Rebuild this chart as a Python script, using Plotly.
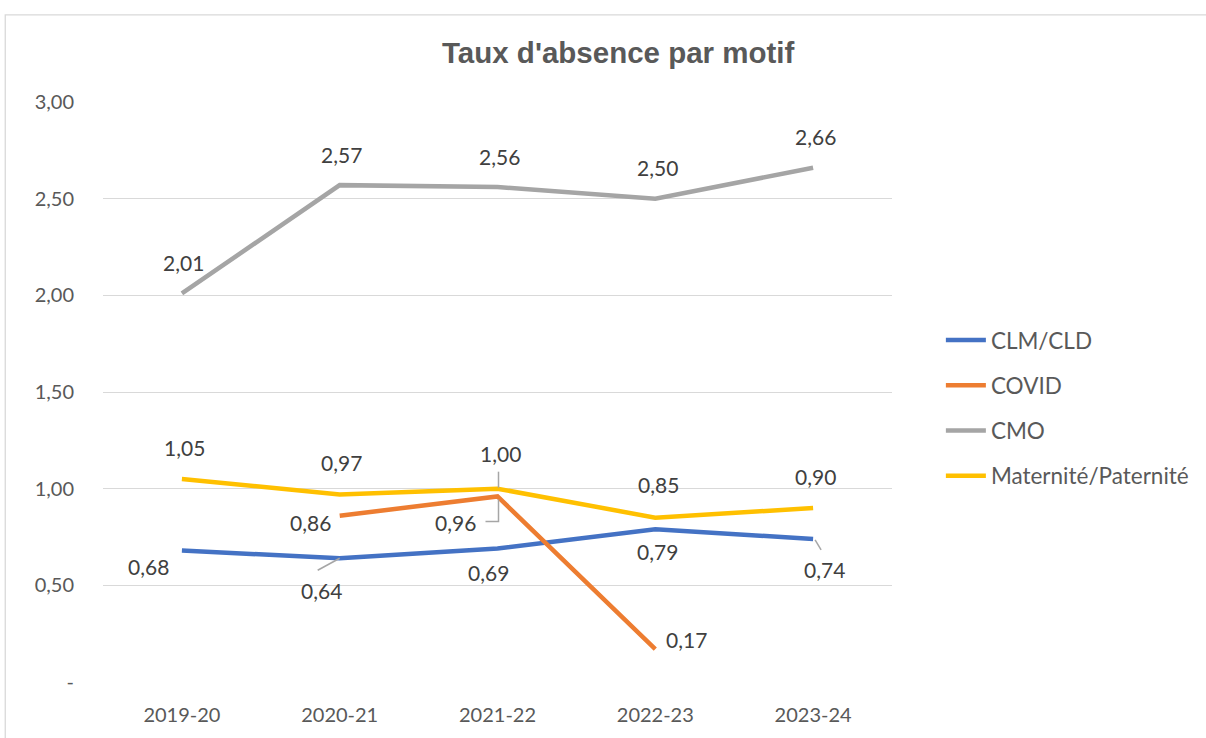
import plotly.graph_objects as go

# Absence rates by reason, per school year
years = ["2019-20", "2020-21", "2021-22", "2022-23", "2023-24"]
clm_cld = [0.68, 0.64, 0.69, 0.79, 0.74]
covid = [None, 0.86, 0.96, 0.17, None]
cmo = [2.01, 2.57, 2.56, 2.50, 2.66]
maternite = [1.05, 0.97, 1.00, 0.85, 0.90]

y_tick_vals = [0, 0.5, 1.0, 1.5, 2.0, 2.5, 3.0]
y_tick_text = ["-", "0,50", "1,00", "1,50", "2,00", "2,50", "3,00"]

series = [
    ("CLM/CLD", clm_cld, "#4472C4"),
    ("COVID", covid, "#ED7D31"),
    ("CMO", cmo, "#A5A5A5"),
    ("Maternité/Paternité", maternite, "#FFC000"),
]

# Pixel offsets of each value label relative to its point (dx, dy; dy up)
label_offsets = {
    "CLM/CLD": [(-33, -16), (-18, -32), (-9, -24), (2, -22), (11, -31)],
    "COVID": [None, (-29, -7), (-42, -26), (31, 10), None],
    "CMO": [(2, 31), (2, 31), (2, 31), (2, 31), (2, 31)],
    "Maternité/Paternité": [(3, 32), (2, 32), (3, 35), (3, 33), (2, 32)],
}

# Leader lines (point-relative pixel paths) for labels set away from their point
leaders = {
    ("CLM/CLD", 1): "M0,0 L-22,-12",
    ("CLM/CLD", 4): "M2,-1 L8,-11",
    ("COVID", 2): "M1,-3 L1,-25 L-12,-25",
    ("Maternité/Paternité", 2): "M1,1 L1,17",
}

LABEL_FONT = "Lato, 'Open Sans', sans-serif"

fig = go.Figure()
for i, (name, vals, color) in enumerate(series):
    fig.add_trace(go.Scatter(
        x=years, y=vals, name=name, mode="lines",
        line=dict(color=color, width=4.5),
        legendgroup=name,
        connectgaps=False,
        hoverinfo="skip",
    ))

annotations = []
shapes = []
for name, vals, color in series:
    for i, v in enumerate(vals):
        if v is None:
            continue
        dx, dy = label_offsets[name][i]
        annotations.append(dict(
            x=years[i], y=v, xref="x", yref="y",
            text=f"{v:.2f}".replace(".", ","),
            showarrow=False, xshift=dx, yshift=dy,
            font=dict(family=LABEL_FONT, size=21, color="#404040"),
        ))
        if (name, i) in leaders:
            shapes.append(dict(
                type="path", xref="x", yref="y",
                xsizemode="pixel", ysizemode="pixel",
                xanchor=i, yanchor=v,
                path=leaders[(name, i)],
                line=dict(color="#A6A6A6", width=1.5),
            ))

# Plot area in pixels: x 103..894, y 102..688
PX0, PW, PY0, PH = 103, 791, 688, 586


def px(xp):
    return (xp - PX0) / PW


def py(yp):
    return (PY0 - yp) / PH


annotations.append(dict(
    x=px(620), y=py(52), xref="paper", yref="paper",
    text="<b>Taux d'absence par motif</b>", showarrow=False,
    xanchor="center", yanchor="middle",
    font=dict(family="Liberation Sans, Arial, sans-serif", size=29.5, color="#595959"),
))

# Chart frame
shapes.append(dict(
    type="rect", xref="paper", yref="paper",
    x0=px(5), x1=px(1215), y0=py(750), y1=py(14),
    line=dict(color="#D9D9D9", width=1.3), fillcolor="rgba(0,0,0,0)",
    layer="below",
))

fig.update_layout(
    width=1206, height=738,
    margin=dict(l=103, r=312, t=102, b=50, pad=0),
    paper_bgcolor="white", plot_bgcolor="white",
    showlegend=True,
    legend=dict(
        x=px(943), y=py(321), xanchor="left", yanchor="top",
        traceorder="grouped", tracegroupgap=13,
        font=dict(family=LABEL_FONT, size=22.5, color="#595959"),
        bgcolor="rgba(0,0,0,0)", itemwidth=40,
    ),
    annotations=annotations,
    shapes=shapes,
)

fig.update_xaxes(
    type="category", range=[-0.5, 4.5],
    showgrid=False, showline=False, zeroline=False, ticks="",
    tickfont=dict(family=LABEL_FONT, size=20, color="#595959"),
    ticklabelstandoff=19,
)
fig.update_yaxes(
    range=[0, 3], tickvals=y_tick_vals, ticktext=y_tick_text,
    showgrid=True, gridcolor="#D9D9D9", gridwidth=1.3,
    zeroline=False, showline=False, ticks="",
    tickfont=dict(family=LABEL_FONT, size=20, color="#595959"),
    ticklabelstandoff=28,
)

fig.write_html("out.html")
